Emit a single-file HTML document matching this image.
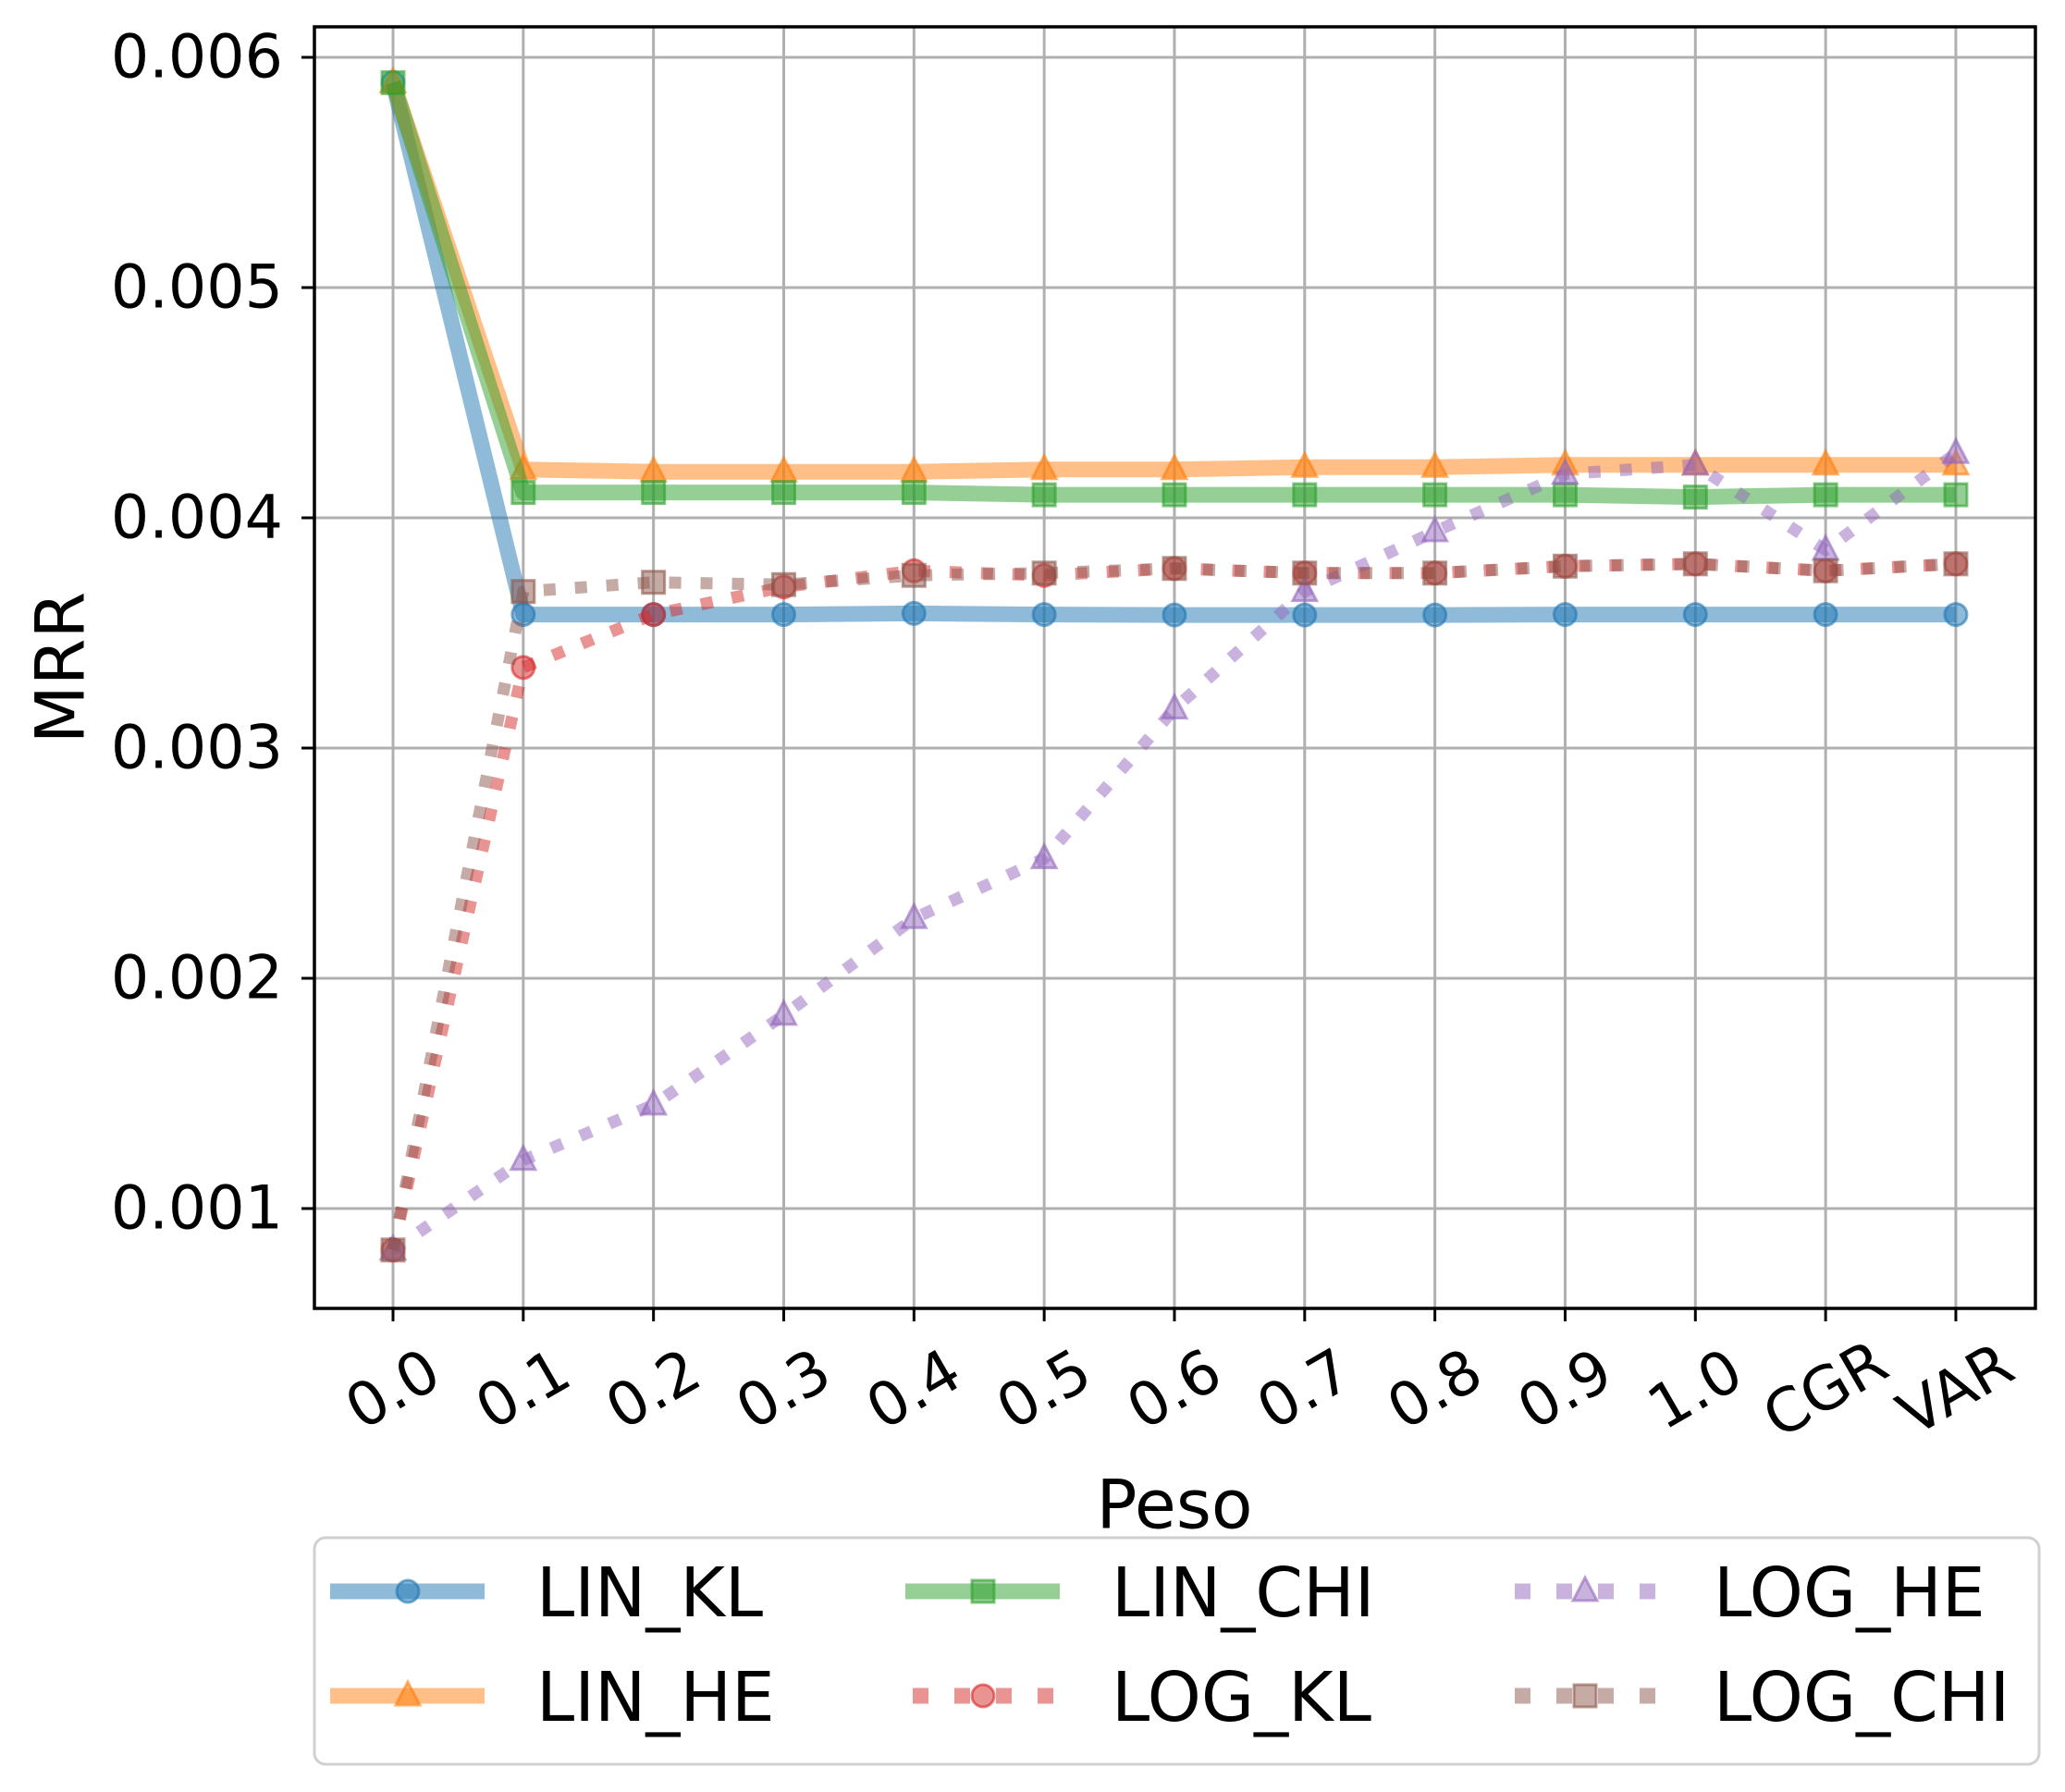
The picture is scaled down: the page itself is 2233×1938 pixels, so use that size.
<!DOCTYPE html>
<html><head><meta charset="utf-8"><style>
html,body{margin:0;padding:0;background:#fff}
svg{display:block}
text{font-family:"DejaVu Sans","Liberation Sans",sans-serif;fill:#000}
</style></head><body>
<svg id="chart" width="2233" height="1938" viewBox="0 0 2233 1938" xmlns="http://www.w3.org/2000/svg">
<g id="grid"></g>
<g id="series"></g>
<g id="axes"></g>
<g id="legend"></g>
</svg>
<script>
const categories = ["0.0","0.1","0.2","0.3","0.4","0.5","0.6","0.7","0.8","0.9","1.0","CGR","VAR"];
const yTicks = [0.001,0.002,0.003,0.004,0.005,0.006];
const yTickLabels = ["0.001","0.002","0.003","0.004","0.005","0.006"];
const linKL  = [0.00589,0.00358,0.00358,0.00358,0.003585,0.00358,0.003578,0.003578,0.003578,0.00358,0.00358,0.00358,0.00358];
const linHE  = [0.00589,0.00421,0.0042,0.0042,0.0042,0.00421,0.00421,0.00422,0.00422,0.00423,0.00423,0.00423,0.00423];
const linCHI = [0.00589,0.00411,0.00411,0.00411,0.00411,0.0041,0.0041,0.0041,0.0041,0.0041,0.00409,0.0041,0.0041];
const logKL  = [0.00082,0.00335,0.00358,0.0037,0.00377,0.00375,0.00378,0.00376,0.00376,0.00379,0.0038,0.00377,0.0038];
const logHE  = [0.00082,0.00121,0.00145,0.00184,0.00226,0.00252,0.00317,0.00368,0.00394,0.00419,0.00423,0.00386,0.00428];
const logCHI = [0.00082,0.00368,0.00372,0.00371,0.00375,0.00376,0.00378,0.00376,0.00376,0.00379,0.0038,0.00377,0.0038];

const NS="http://www.w3.org/2000/svg";
const L=340,R=2201,T=29,B=1415;
const X0=425,DX=140.83;
const xS=i=>X0+i*DX;
const yS=v=>62+(0.006-v)/0.001*249;
function mk(tag,attrs,parent){const e=document.createElementNS(NS,tag);for(const k in attrs)e.setAttribute(k,attrs[k]);parent.appendChild(e);return e;}
const grid=document.getElementById('grid'),ser=document.getElementById('series'),axes=document.getElementById('axes'),leg=document.getElementById('legend');

categories.forEach((c,i)=>{
  const g=mk('line',{x1:xS(i),x2:xS(i),y1:T,y2:B,stroke:'#b0b0b0','stroke-width':3},grid);
  
  
  const t=mk('line',{x1:xS(i),x2:xS(i),y1:B,y2:B+14,stroke:'#000','stroke-width':3},axes);
  
  
  const x=xS(i),y=1503;
  const tx=mk('text',{x:x,y:y,'font-size':65,'text-anchor':'middle','dominant-baseline':'central',transform:`rotate(-30 ${x} ${y})`},axes);
  tx.textContent=c;
  
  
});
yTicks.forEach((v,i)=>{
  const g=mk('line',{x1:L,x2:R,y1:yS(v),y2:yS(v),stroke:'#b0b0b0','stroke-width':3},grid);
  
  
  const t=mk('line',{x1:L-14,x2:L,y1:yS(v),y2:yS(v),stroke:'#000','stroke-width':3},axes);
  
  
  const tx=mk('text',{x:306,y:yS(v),'font-size':65,'text-anchor':'end','dominant-baseline':'central'},axes);
  tx.textContent=yTickLabels[i];
  
  
});
const frame=mk('rect',{x:L,y:T,width:R-L,height:B-T,fill:'none',stroke:'#000','stroke-width':3.5},axes);


const yl=mk('text',{x:66,y:722,'font-size':73,'text-anchor':'middle','dominant-baseline':'central',transform:'rotate(-90 66 722)'},axes);
yl.textContent='MRR';


const xl=mk('text',{x:1270,y:1628,'font-size':73,'text-anchor':'middle','dominant-baseline':'central'},axes);
xl.textContent='Peso';



function marker(type,x,y,col,parent){
  let e;
  if(type==='o') e=mk('circle',{cx:x,cy:y,r:12},parent);
  else if(type==='s') e=mk('rect',{x:x-12,y:y-12,width:24,height:24},parent);
  else e=mk('polygon',{points:`${x},${y-15} ${x-13},${y+10} ${x+13},${y+10}`},parent);
  e.setAttribute('fill',col);e.setAttribute('stroke',col);e.setAttribute('stroke-width',3);
  e.setAttribute('fill-opacity',0.5);e.setAttribute('stroke-opacity',0.6);
  return e;
}
const seriesDefs=[
  {name:'LIN_KL',data:linKL,col:'#1f77b4',m:'o',dot:false},
  {name:'LIN_HE',data:linHE,col:'#ff7f0e',m:'^',dot:false},
  {name:'LIN_CHI',data:linCHI,col:'#2ca02c',m:'s',dot:false},
  {name:'LOG_KL',data:logKL,col:'#d62728',m:'o',dot:true},
  {name:'LOG_HE',data:logHE,col:'#9467bd',m:'^',dot:true},
  {name:'LOG_CHI',data:logCHI,col:'#8c564b',m:'s',dot:true}
];
seriesDefs.forEach(s=>{
  const g=mk('g',{},ser);
  
  
  const pts=s.data.map((v,i)=>xS(i)+','+yS(v)).join(' ');
  const pl=mk('polyline',{points:pts,fill:'none',stroke:s.col,'stroke-opacity':0.5,'stroke-width':s.dot?13:17,'stroke-linejoin':'round'},g);
  if(s.dot) pl.setAttribute('stroke-dasharray','13 21');
  
  
  s.data.forEach((v,i)=>{
    const mm=marker(s.m,xS(i),yS(v),s.col,g);
    
    
  });
});

const box=mk('rect',{x:340,y:1663,width:1865,height:245,rx:12,fill:'#fff',stroke:'#d0d0d0','stroke-width':3},leg);


const colX=[357,979,1630],rowY=[1721,1834];
seriesDefs.forEach((s,k)=>{
  const col=Math.floor(k/2),row=k%2;
  const x0=colX[col],y=rowY[row];
  const g=mk('g',{},leg);
  
  
  const ln=mk('line',{x1:x0,x2:x0+167,y1:y,y2:y,stroke:s.col,'stroke-opacity':0.5,'stroke-width':17},g);
  if(s.dot) {ln.setAttribute('stroke-dasharray','17 28');ln.setAttribute('x1',x0+8);}
  marker(s.m,x0+84,y,s.col,g);
  const t=mk('text',{x:x0+223,y:y+2,'font-size':74,'dominant-baseline':'central'},g);
  t.textContent=s.name;
});
</script>
</body></html>
